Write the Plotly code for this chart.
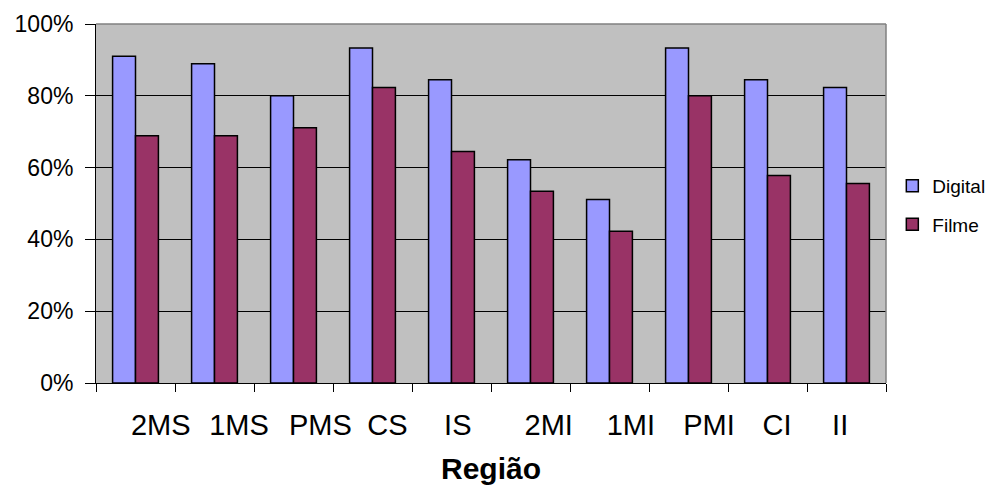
import plotly.graph_objects as go

categories = ["2MS", "1MS", "PMS", "CS", "IS", "2MI", "1MI", "PMI", "CI", "II"]
digital = [0.91, 0.889, 0.80, 0.933, 0.845, 0.622, 0.511, 0.933, 0.845, 0.823]
filme = [0.689, 0.689, 0.711, 0.823, 0.645, 0.534, 0.423, 0.80, 0.578, 0.556]
y_ticks = [0, 0.2, 0.4, 0.6, 0.8, 1.0]
# label positions along the category axis, as they appear in the original (shifted)
label_pos = [0.32, 1.31, 2.34, 3.19, 4.08, 5.23, 6.27, 7.26, 8.12, 8.92]

FONT = "Liberation Sans, Arial, sans-serif"

fig = go.Figure()
fig.add_trace(go.Bar(name="Digital", x=categories, y=digital, legendgroup="d",
                     marker=dict(color="#9999FF", line=dict(color="black", width=1.5))))
fig.add_trace(go.Bar(name="Filme", x=categories, y=filme, legendgroup="f",
                     marker=dict(color="#993366", line=dict(color="black", width=1.5))))
# invisible trace to activate the secondary (label) axis
fig.add_trace(go.Scatter(x=[label_pos[0]], y=[0], xaxis="x2", mode="markers",
                         marker=dict(opacity=0), showlegend=False, hoverinfo="skip"))

fig.update_layout(
    width=988, height=480,
    margin=dict(l=88, r=110, t=16, b=105, autoexpand=False),
    paper_bgcolor="white",
    plot_bgcolor="#C0C0C0",
    barmode="group",
    bargap=0.42,
    bargroupgap=0,
    font=dict(family=FONT, color="black"),
    showlegend=True,
    legend=dict(x=1.008, y=0.495, xanchor="left", yanchor="middle",
                font=dict(size=19, family=FONT), bgcolor="rgba(0,0,0,0)",
                tracegroupgap=11, itemwidth=30),
    xaxis=dict(type="category", range=[-0.5, 9.5], showticklabels=False,
               ticks="outside", tickson="boundaries", ticklen=8, tickcolor="black",
               showline=True, linecolor="black", linewidth=1, showgrid=False,
               zeroline=False, automargin=False),
    xaxis2=dict(overlaying="x", side="bottom", anchor="y", range=[-0.5, 9.5],
                tickmode="array", tickvals=label_pos, ticktext=categories,
                ticks="", showline=False, showgrid=False, zeroline=False,
                tickfont=dict(size=29, family=FONT), ticklabelstandoff=22,
                automargin=False,
                title=dict(text="<b>Região</b>", font=dict(size=30, family=FONT),
                           standoff=17)),
    yaxis=dict(range=[0, 1], tickmode="array", tickvals=y_ticks, tickformat=".0%",
               ticks="outside", ticklen=10, tickcolor="black",
               showline=True, linecolor="black", linewidth=1,
               showgrid=True, gridcolor="black", gridwidth=1, zeroline=False,
               tickfont=dict(size=23, family=FONT), ticklabelstandoff=7,
               automargin=False),
    shapes=[
        dict(type="line", xref="x domain", yref="y domain", x0=0, x1=1, y0=1, y1=1,
             line=dict(color="#808080", width=1.5)),
        dict(type="line", xref="x domain", yref="y domain", x0=1, x1=1, y0=0, y1=1,
             line=dict(color="#808080", width=1.5)),
    ],
)

fig.write_html("out.html")
